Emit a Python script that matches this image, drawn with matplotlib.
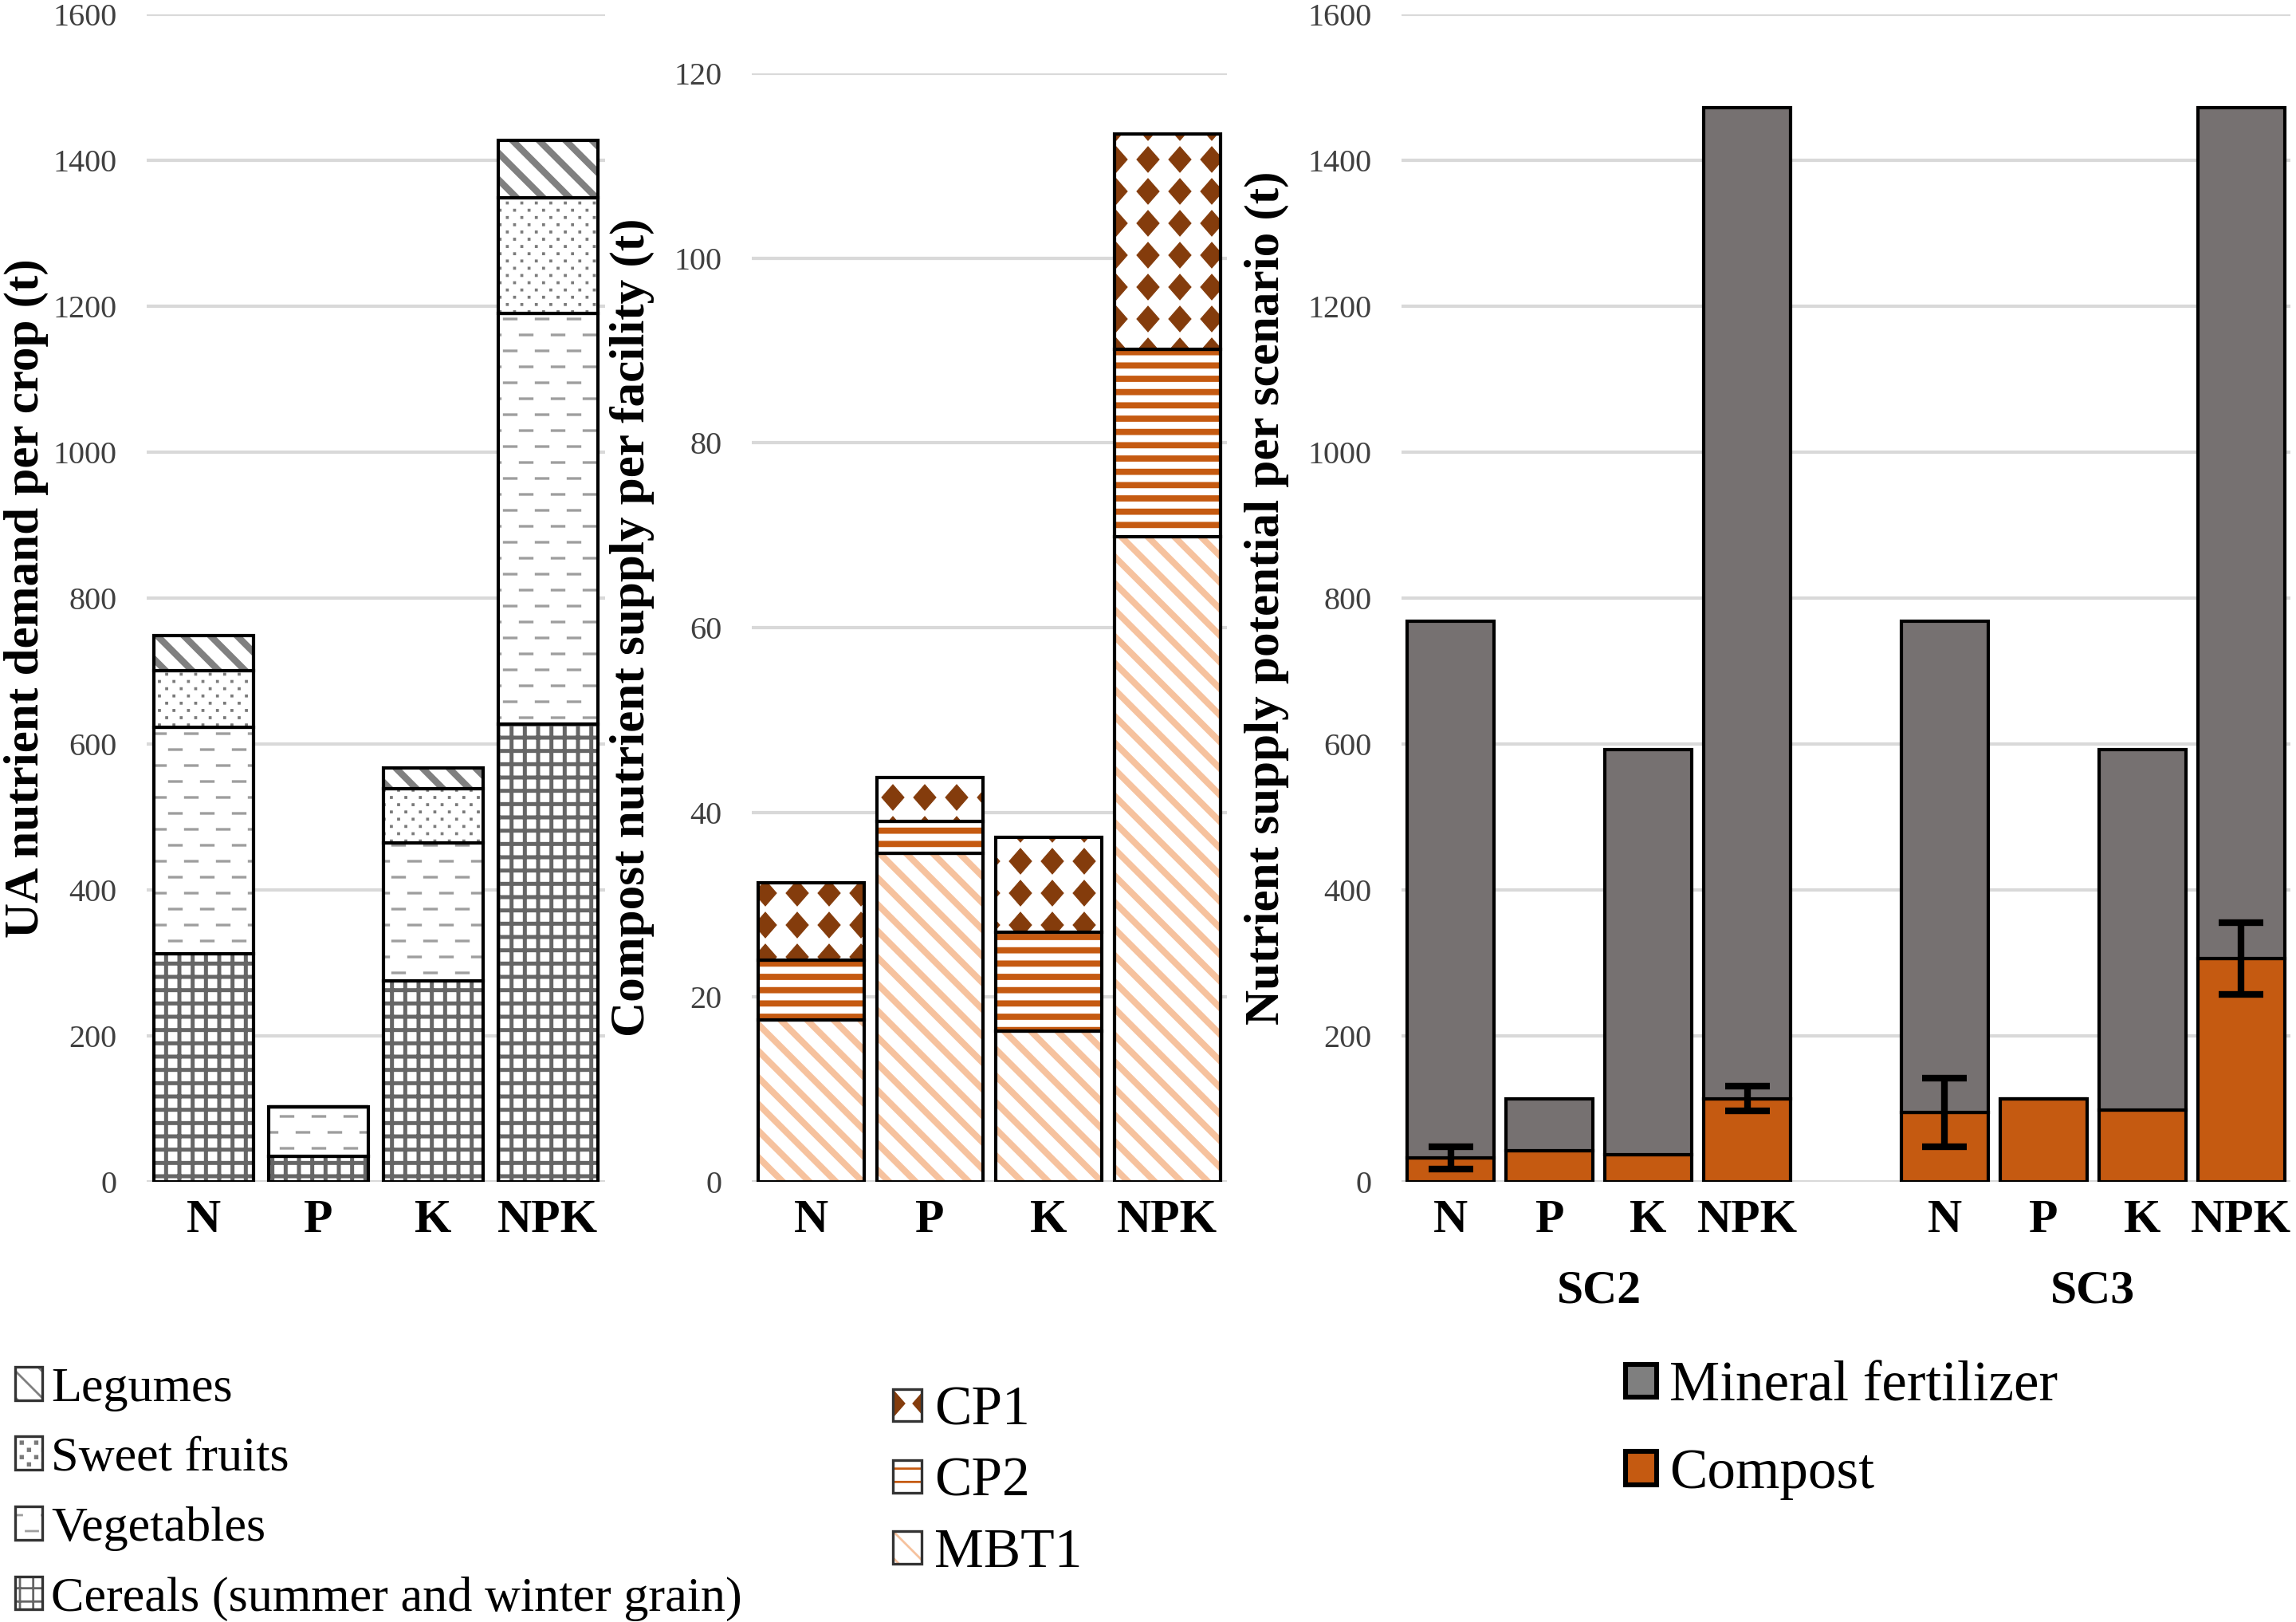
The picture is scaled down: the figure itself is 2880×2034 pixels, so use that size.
import numpy as np
import matplotlib
matplotlib.use('Agg')
import matplotlib.pyplot as plt
import matplotlib.hatch as mhatch
from matplotlib.path import Path
from matplotlib.patches import Patch
from matplotlib.legend_handler import HandlerTuple

# ---- data (t) ----
nutrients = ['N', 'P', 'K', 'NPK']

# panel 1: UA nutrient demand per crop
cereals = [313, 35, 275, 627]
vegetables = [310, 68, 189, 563]
sweet_fruits = [78, 0, 75, 159]
legumes = [48, 0, 28, 78]

# panel 2: compost nutrient supply per facility
mbt1 = [17.5, 35.6, 16.3, 69.8]
cp2 = [6.5, 3.4, 10.7, 20.3]
cp1 = [8.4, 4.8, 10.3, 23.3]

# panel 3: nutrient supply potential per scenario
scenarios = ['SC2', 'SC3']
sc2_total = [768, 114, 592, 1472]
sc2_compost = [33, 43, 37, 114]
sc2_err = [15, 0, 0, 17]
sc3_total = [768, 114, 592, 1472]
sc3_compost = [95, 114, 98, 306]
sc3_err = [47, 0, 0, 49]


# ---- extra hatch patterns (dashes, dots, diamonds) like the Excel fills ----
def lattice_hatch(char, nx, ny, shape, fill, stagger):
    shape = np.asarray(shape, float) / 200.0   # px of the 200 px hatch tile
    nv = len(shape) + (1 if fill else 0)

    class LatticeHatch(mhatch.HatchPatternBase):
        def __init__(self, hatch, density):
            self.num_vertices = (ny + 1) * (nx + 2) * nv if char in hatch else 0

        def set_vertices_and_codes(self, vertices, codes):
            k = 0
            for j in range(ny + 1):
                shift = 0.5 / nx if (stagger and j % 2) else 0.0
                for i in range(-1, nx + 1):
                    pts = shape + [i / nx + shift, j / ny]
                    if fill:
                        pts = np.vstack([pts, pts[:1]])
                    vertices[k:k + nv] = pts
                    codes[k:k + nv] = Path.LINETO
                    codes[k] = Path.MOVETO
                    if fill:
                        codes[k + nv - 1] = Path.CLOSEPOLY
                    k += nv
    return LatticeHatch


dashes = lattice_hatch('o', 5, 10, [[-7.5, 0], [7.5, 0]], False, True)
dots = lattice_hatch('.', 11, 22, [[-1.3, -1.3], [1.3, -1.3], [1.3, 1.3], [-1.3, 1.3]], True, True)
diamonds = lattice_hatch('*', 5, 5, [[0, 16], [-14, 0], [0, -16], [14, 0]], True, False)
ht = mhatch._hatch_types
ht[ht.index(mhatch.SmallCircles)] = dashes
ht[ht.index(mhatch.SmallFilledCircles)] = dots
ht[ht.index(mhatch.Stars)] = diamonds

plt.rcParams['font.family'] = ['Liberation Serif', 'DejaVu Serif']

TICK_COLOR = '#404040'
GRID_COLOR = '#d9d9d9'


def style_axis(ax, ymax, step, ylabel, label_x):
    ax.set_ylim(0, ymax)
    ax.set_yticks(np.arange(0, ymax + 1, step))
    ax.yaxis.grid(True, color=GRID_COLOR, linewidth=1.5)
    ax.set_axisbelow(True)
    for s in ax.spines.values():
        s.set_visible(False)
    ax.tick_params(axis='y', length=0, pad=13.5, labelsize=14.5, labelcolor=TICK_COLOR)
    ax.tick_params(axis='x', length=0, pad=8, labelsize=21.5)
    for t in ax.get_xticklabels():
        t.set_fontweight('bold')
    ax.set_ylabel(ylabel, fontsize=22, fontweight='bold')
    ax.yaxis.set_label_coords(label_x, 0.5)


def hatched_stack(ax, x, series, styles, width):
    bottom = np.zeros(len(x))
    handles = []
    for vals, (hatch, color, hlw) in zip(series, styles):
        vals = np.asarray(vals, float)
        bars = ax.bar(x, vals, width, bottom=bottom, color='white',
                      edgecolor=color, linewidth=0, hatch=hatch)
        for p in bars:
            if hasattr(p, 'set_hatch_linewidth'):
                p.set_hatch_linewidth(hlw)
        ax.bar(x, vals, width, bottom=bottom, fill=False, edgecolor='black', linewidth=1.5)
        bottom += vals
        h = Patch(facecolor='white', edgecolor=color, linewidth=0, hatch=hatch)
        if hasattr(h, 'set_hatch_linewidth'):
            h.set_hatch_linewidth(hlw)
        handles.append((h, Patch(fill=False, edgecolor='#333333', linewidth=1.2)))
    return handles


fig = plt.figure(figsize=(14.4, 10.17), dpi=200)
ax1 = fig.add_axes([0.0639, 0.2714, 0.1997, 0.7198])
ax2 = fig.add_axes([0.3274, 0.2714, 0.2069, 0.6834])
ax3 = fig.add_axes([0.6104, 0.2714, 0.3872, 0.7198])

x = np.arange(len(nutrients))

# panel 1
crop_styles = [('++', '#666666', 1.8),
               ('o', '#9e9e9e', 1.2),
               ('.', '#7a7a7a', 0.4),
               ('\\\\', '#808080', 3.0)]
h1 = hatched_stack(ax1, x, [cereals, vegetables, sweet_fruits, legumes], crop_styles, 0.87)
ax1.set_xlim(-0.5, 3.5)
ax1.set_xticks(x, nutrients)
style_axis(ax1, 1600, 200, 'UA nutrient demand per crop (t)', -0.214)

# panel 2
facility_styles = [('\\\\', '#f6c29e', 2.9),
                   ('--', '#c55a11', 2.8),
                   ('*', '#843c0c', 0.4)]
h2 = hatched_stack(ax2, x, [mbt1, cp2, cp1], facility_styles, 0.89)
ax2.set_xlim(-0.5, 3.5)
ax2.set_xticks(x, nutrients)
style_axis(ax2, 120, 20, 'Compost nutrient supply per facility (t)', -0.205)

# panel 3
x3 = np.array([0, 1, 2, 3, 5, 6, 7, 8])
total = np.array(sc2_total + sc3_total, float)
compost = np.array(sc2_compost + sc3_compost, float)
err = np.array(sc2_err + sc3_err, float)
mineral = total - compost
ax3.bar(x3, compost, 0.88, color='#c55a11', edgecolor='black', linewidth=1.5)
ax3.bar(x3, mineral, 0.88, bottom=compost, color='#767171', edgecolor='black', linewidth=1.5)
m = err > 0
ax3.errorbar(x3[m], compost[m], yerr=err[m], fmt='none', ecolor='black',
             elinewidth=3, capsize=10, capthick=3, zorder=5)
ax3.set_xlim(-0.5, 8.5)
ax3.set_xticks(x3, nutrients * 2)
style_axis(ax3, 1600, 200, 'Nutrient supply potential per scenario (t)', -0.126)
for xc, name in zip([1.5, 6.5], scenarios):
    ax3.text(xc, -0.0936, name, transform=ax3.get_xaxis_transform(),
             ha='center', va='center', fontsize=21.5, fontweight='bold')

# legends
fig.legend(h1[::-1], ['Legumes', 'Sweet fruits', 'Vegetables', 'Cereals (summer and winter grain)'],
           handler_map={tuple: HandlerTuple(ndivide=1)},
           loc='upper left', bbox_to_anchor=(0.0066, 0.1573), frameon=False,
           fontsize=22.4, handlelength=0.55, handleheight=0.65, handletextpad=0.18,
           labelspacing=0.51, borderpad=0, borderaxespad=0)
fig.legend(h2[::-1], ['CP1', 'CP2', 'MBT1'],
           handler_map={tuple: HandlerTuple(ndivide=1)},
           loc='upper left', bbox_to_anchor=(0.389, 0.1454), frameon=False,
           fontsize=25, handlelength=0.52, handleheight=0.52, handletextpad=0.23,
           labelspacing=0.37, borderpad=0, borderaxespad=0)
h3 = [Patch(facecolor='#7f7f7f', edgecolor='black', linewidth=2.2),
      Patch(facecolor='#c55a11', edgecolor='black', linewidth=2.2)]
fig.legend(h3, ['Mineral fertilizer', 'Compost'],
           loc='upper left', bbox_to_anchor=(0.708, 0.1608), frameon=False,
           fontsize=25.6, handlelength=0.55, handleheight=0.52, handletextpad=0.22,
           labelspacing=0.62, borderpad=0, borderaxespad=0)

fig.savefig('out.png', dpi=200, facecolor='white')
